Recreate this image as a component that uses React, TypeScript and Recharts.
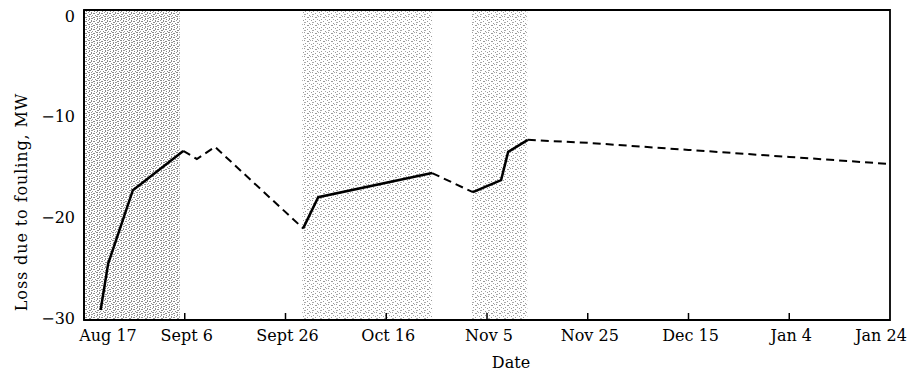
import React from 'react';
import { LineChart, Line, XAxis, YAxis, ReferenceArea } from 'recharts';

// days counted from Aug 17
const xTickDays = [0, 20, 40, 60, 80, 100, 120, 140, 160];
const xTickLabels = ['Aug 17', 'Sept 6', 'Sept 26', 'Oct 16', 'Nov 5', 'Nov 25', 'Dec 15', 'Jan 4', 'Jan 24'];
const yTicks = [0, -10, -20, -30];

// shaded (cleaning) periods
const shadeStart = [0, 43.3, 77];
const shadeEnd = [19, 69.1, 88];

// measured loss (solid)
const run1Days = [3.3, 4.8, 9.7, 19.7];
const run1Loss = [-29.2, -24.6, -17.3, -13.4];
const run2Days = [43.5, 46.5, 69.1];
const run2Loss = [-21.1, -18.0, -15.6];
const run3Days = [77.2, 82.8, 84.2, 88.1];
const run3Loss = [-17.5, -16.3, -13.5, -12.3];

// estimated loss (dashed)
const gap1Days = [19.7, 22.4, 26.0, 43.5];
const gap1Loss = [-13.4, -14.2, -13.0, -21.1];
const gap2Days = [69.1, 77.2];
const gap2Loss = [-15.6, -17.5];
const gap3Days = [88.1, 100, 120, 140, 160];
const gap3Loss = [-12.3, -12.6, -13.3, -14.0, -14.7];

const toRows = (days: number[], loss: number[]) => days.map((d, i) => ({ day: d, loss: loss[i] }));

const font = '"DejaVu Serif", serif';

const XTick = (props: any) => {
  const { x, y, payload, index } = props;
  const i = xTickDays.indexOf(payload.value);
  const last = i === xTickDays.length - 1;
  const dx = index === 0 ? 24 : last ? -9 : 2;
  return (
    <g>
      {index !== 0 && !last && (
        <line x1={x} x2={x} y1={y} y2={y - 7} stroke="#000" strokeWidth={1.5} />
      )}
      <text x={x + dx} y={y + 21} textAnchor="middle" fontFamily={font} fontSize={16} fill="#000">
        {xTickLabels[i]}
      </text>
    </g>
  );
};

const YTick = (props: any) => {
  const { x, y, payload } = props;
  const v = payload.value;
  return (
    <text x={x} y={y} dy="0.36em" textAnchor="end" fontFamily={font} fontSize={16} fill="#000">
      {v < 0 ? `\u2212${-v}` : `${v}`}
    </text>
  );
};

const App = () => {
  return (
    <div style={{ position: 'absolute', left: 0, top: 0, background: '#fff' }}>
      <LineChart width={919} height={371} margin={{ top: 10, right: 29, left: 0, bottom: 0 }}>
        <defs>
          <pattern id="speckleDense" width="8" height="8" patternUnits="userSpaceOnUse">
            <rect width="8" height="8" fill="#fff" />
            <rect x="0" y="0" width="2" height="1" fill="#8a8a8a" />
            <rect x="3" y="0" width="1" height="1" fill="#999" />
            <rect x="5" y="1" width="2" height="1" fill="#8a8a8a" />
            <rect x="1" y="2" width="1" height="2" fill="#8a8a8a" />
            <rect x="3" y="2" width="2" height="1" fill="#9a9a9a" />
            <rect x="6" y="3" width="1" height="1" fill="#8a8a8a" />
            <rect x="0" y="4" width="1" height="1" fill="#999" />
            <rect x="3" y="4" width="1" height="2" fill="#8a8a8a" />
            <rect x="5" y="5" width="2" height="1" fill="#8a8a8a" />
            <rect x="1" y="6" width="2" height="1" fill="#8a8a8a" />
            <rect x="4" y="7" width="1" height="1" fill="#999" />
            <rect x="7" y="7" width="1" height="1" fill="#8a8a8a" />
          </pattern>
          <pattern id="speckleLight" width="8" height="8" patternUnits="userSpaceOnUse">
            <rect width="8" height="8" fill="#fff" />
            <rect x="0" y="0" width="1" height="1" fill="#999" />
            <rect x="3" y="1" width="2" height="1" fill="#999" />
            <rect x="6" y="0" width="1" height="1" fill="#aaa" />
            <rect x="1" y="3" width="1" height="1" fill="#999" />
            <rect x="5" y="3" width="1" height="1" fill="#aaa" />
            <rect x="7" y="4" width="1" height="1" fill="#999" />
            <rect x="3" y="5" width="1" height="1" fill="#999" />
            <rect x="0" y="6" width="2" height="1" fill="#aaa" />
            <rect x="5" y="7" width="1" height="1" fill="#999" />
          </pattern>
        </defs>
        <XAxis
          dataKey="day"
          type="number"
          domain={[0, 160]}
          ticks={xTickDays}
          interval={0}
          height={51}
          tickSize={0}
          tickMargin={0}
          tick={<XTick />}
          axisLine={{ stroke: '#000', strokeWidth: 2 }}
          label={{
            content: (p: any) => (
              <text
                x={p.viewBox.x + p.viewBox.width / 2 + 24}
                y={p.viewBox.y + 48}
                textAnchor="middle"
                fontFamily={font}
                fontSize={16}
                fill="#000"
              >
                Date
              </text>
            ),
          }}
        />
        <YAxis
          type="number"
          domain={[-30.2, 0.6]}
          ticks={yTicks}
          width={84}
          tickSize={0}
          tickMargin={9}
          tick={<YTick />}
          axisLine={{ stroke: '#000', strokeWidth: 2 }}
          label={{
            content: (p: any) => {
              const cx = 27;
              const cy = p.viewBox.y + p.viewBox.height / 2 + 37;
              return (
                <text
                  x={cx}
                  y={cy}
                  transform={`rotate(-90 ${cx} ${cy})`}
                  textAnchor="middle"
                  fontFamily={font}
                  fontSize={16}
                  letterSpacing={0.9}
                  fill="#000"
                >
                  Loss due to fouling, MW
                </text>
              );
            },
          }}
        />
        {shadeStart.map((s, i) => (
          <ReferenceArea
            key={i}
            x1={s}
            x2={shadeEnd[i]}
            y1={-30.2}
            y2={0.6}
            fill={i === 0 ? 'url(#speckleDense)' : 'url(#speckleLight)'}
            fillOpacity={1}
            stroke="none"
          />
        ))}
        <ReferenceArea x1={0} x2={160} y1={-30.2} y2={0.6} fill="none" stroke="#000" strokeWidth={1.8} />
        {[
          [gap1Days, gap1Loss],
          [gap2Days, gap2Loss],
          [gap3Days, gap3Loss],
        ].map(([d, l], i) => (
          <Line
            key={`gap${i}`}
            data={toRows(d, l)}
            dataKey="loss"
            type="linear"
            stroke="#000"
            strokeWidth={2}
            strokeDasharray="8 5"
            dot={false}
            isAnimationActive={false}
          />
        ))}
        {[
          [run1Days, run1Loss],
          [run2Days, run2Loss],
          [run3Days, run3Loss],
        ].map(([d, l], i) => (
          <Line
            key={`run${i}`}
            data={toRows(d, l)}
            dataKey="loss"
            type="linear"
            stroke="#000"
            strokeWidth={2.5}
            dot={false}
            isAnimationActive={false}
          />
        ))}
      </LineChart>
    </div>
  );
};

export default App;
